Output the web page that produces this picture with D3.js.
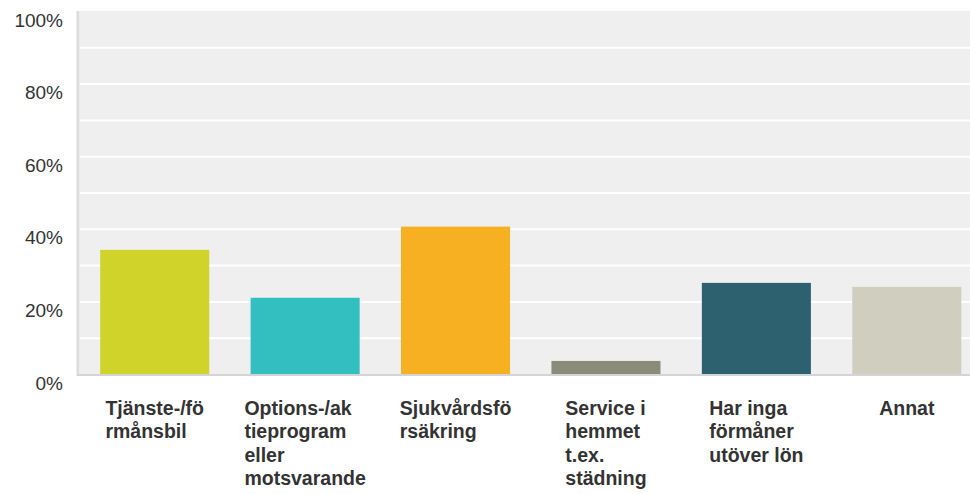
<!DOCTYPE html>
<html>
<head>
<meta charset="utf-8">
<script src="https://cdn.jsdelivr.net/npm/d3@7"></script>
<style>
  body { margin: 0; background: #fff; }
  svg { display: block; font-family: "Liberation Sans", Arial, Helvetica, sans-serif; }
  .tick-label { fill: #333; font-size: 19px; }
  .cat-label { fill: #333; font-size: 19.5px; font-weight: bold; }
</style>
</head>
<body>
<div id="chart"></div>
<script>
// data (share of respondents, %)
let categories = ["Tjänste-/förmånsbil", "Options-/aktieprogram eller motsvarande", "Sjukvårdsförsäkring",
  "Service i hemmet t.ex. städning", "Har inga förmåner utöver lön", "Annat"];
let labelLines = [
  ["Tjänste-/fö", "rmånsbil"],
  ["Options-/ak", "tieprogram", "eller", "motsvarande"],
  ["Sjukvårdsfö", "rsäkring"],
  ["Service i", "hemmet", "t.ex.", "städning"],
  ["Har inga", "förmåner", "utöver lön"],
  ["Annat"]
];
let values = [34.2, 21.0, 40.6, 3.6, 25.1, 24.0];
let colors = ["#d0d42a", "#33bfbf", "#f7b022", "#8a8b79", "#2e6170", "#d0cebe"];
let yTicks = [0, 20, 40, 60, 80, 100];
let gridTicks = [10, 20, 30, 40, 50, 60, 70, 80, 90];

let width = 970;
let height = 494;
let margin = { top: 11, right: 0, bottom: 120, left: 80 };

let svg = d3.select("#chart")
  .append("svg")
  .attr("width", width)
  .attr("height", height);

let x = d3.scaleBand()
  .domain(categories)
  .range([margin.left - 0.5, 982])
  .paddingInner(0.275)
  .paddingOuter(0.1375);

let y = d3.scaleLinear()
  .domain([0, 100])
  .range([height - margin.bottom, margin.top]);

// plot background
svg.append("rect")
  .attr("x", margin.left)
  .attr("y", y(100))
  .attr("width", width - margin.left)
  .attr("height", y(0) - y(100))
  .attr("fill", "#efefef");

// white gridlines
svg.append("g")
  .attr("transform", "translate(" + margin.left + ",0)")
  .call(d3.axisLeft(y).tickValues(gridTicks).tickSize(-(width - margin.left)).tickFormat(""))
  .call(g => g.select(".domain").remove())
  .call(g => g.selectAll(".tick line").attr("stroke", "#fff").attr("stroke-width", 2));

// bars
svg.selectAll(".bar")
  .data(values)
  .enter()
  .append("rect")
  .attr("class", "bar")
  .attr("x", (d, i) => x(categories[i]))
  .attr("y", d => y(d))
  .attr("width", x.bandwidth())
  .attr("height", d => y(0) - y(d))
  .attr("fill", (d, i) => colors[i]);

// axis lines
svg.append("line")
  .attr("x1", margin.left - 2)
  .attr("x2", margin.left - 2)
  .attr("y1", y(100))
  .attr("y2", y(0) + 2)
  .attr("stroke", "#dcdcdc")
  .attr("stroke-width", 3);

svg.append("line")
  .attr("x1", margin.left - 3)
  .attr("x2", width)
  .attr("y1", y(0) + 1)
  .attr("y2", y(0) + 1)
  .attr("stroke", "#d4d4d4")
  .attr("stroke-width", 2);

// y axis labels
svg.append("g")
  .attr("transform", "translate(" + (margin.left - 2) + ",0)")
  .call(d3.axisLeft(y).tickValues(yTicks).tickSize(0).tickPadding(15).tickFormat(d => d + "%"))
  .call(g => g.select(".domain").remove())
  .call(g => g.selectAll(".tick text")
    .attr("class", "tick-label")
    .attr("dy", null)
    .attr("y", 15)
    .attr("font-family", null)
    .attr("font-size", null)
    .attr("fill", null));

// category labels: left aligned lines, block centred under the bar
let labels = svg.append("g");
labelLines.forEach((lines, i) => {
  let t = labels.append("text")
    .attr("class", "cat-label")
    .attr("y", 414.5);
  lines.forEach((s, j) => {
    t.append("tspan")
      .attr("dy", j === 0 ? 0 : 23.5)
      .text(s);
  });
  let maxW = d3.max(t.selectAll("tspan").nodes(), n => n.getComputedTextLength());
  let left = x(categories[i]) + x.bandwidth() / 2 - maxW / 2;
  t.selectAll("tspan").attr("x", left);
});
</script>
</body>
</html>
